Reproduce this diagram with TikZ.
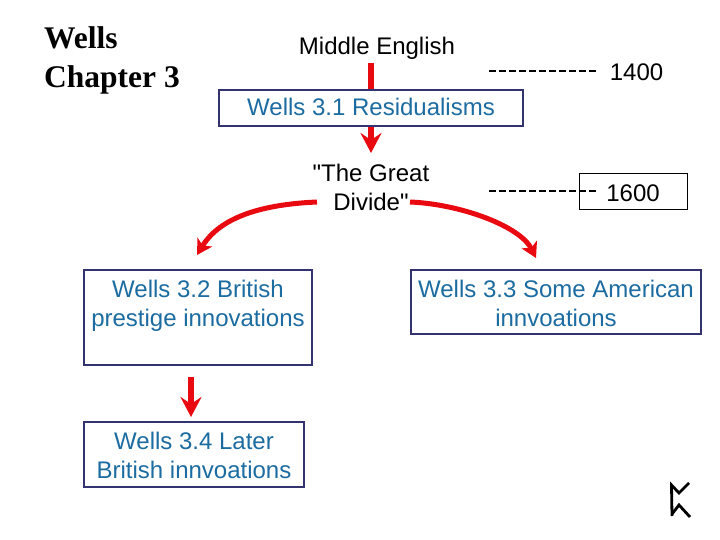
\documentclass[tikz,border=0pt]{standalone}
\usepackage{fontspec}
\setmainfont{Liberation Sans}
\newfontfamily\straightfont{Liberation Sans}
\newfontfamily\titlefont{Liberation Serif}
\usetikzlibrary{arrows.meta}
\definecolor{boxline}{HTML}{333370}
\definecolor{boxtext}{HTML}{1C6CA2}
\definecolor{arrowred}{HTML}{E80A10}
\newcommand{\boxbody}[4]{\begin{minipage}[t][#2pt][t]{#1pt}\centering\fontsize{24}{29}\selectfont\rule{0pt}{#3pt}#4\end{minipage}}
\tikzset{
  wellsbox/.style={draw=boxline,line width=2pt,text=boxtext,inner sep=0pt,fill=white},
  plain/.style={inner sep=0pt,align=center,font=\straightfont\fontsize{24}{29}\selectfont,text=black},
  redline/.style={draw=arrowred,line width=5.5pt},
  redstraight/.style={redline,-{Stealth[length=20pt,width=21pt,inset=7pt]}},
  redcurve/.style={draw=arrowred,line width=5pt,-{Stealth[length=15pt,width=17pt,inset=4pt]}},
  dashline/.style={draw=black,line width=1.2pt,dash pattern=on 7pt off 3pt},
}
\begin{document}
\begin{tikzpicture}[x=1pt,y=-1pt]
\useasboundingbox[fill=white] (0,0) rectangle (720,540);
% anchors of the free connector ends
\coordinate (d14a) at (489,71);
\coordinate (d14b) at (597,71);
\coordinate (d16a) at (489,191);
\coordinate (d16b) at (597,191);
\coordinate (divL) at (317,202);
\coordinate (divR) at (410,202);
\coordinate (tipL) at (197,255);
\coordinate (tipR) at (536,258);
% title
\node[anchor=north west,inner sep=0pt,align=left,font=\titlefont\bfseries\fontsize{31.5}{39}\selectfont] (title) at (44,26) {Wells\\Chapter 3};
% texts
\node[plain,anchor=base] (me) at (377,55) {Middle English};
\node[plain,anchor=base] (y14) at (636.5,81) {1400};
\node[plain] (div) at (371,187) {"The Great\\Divide"};
% boxes
\node[wellsbox] (r) at (371,108) {\boxbody{304}{36}{26}{Wells 3.1 Residualisms}};
\node[wellsbox] (b32) at (198,317.5) {\boxbody{228}{95}{27}{Wells 3.2 British\\prestige innovations}};
\node[wellsbox] (b33) at (556,302) {\boxbody{290}{64}{27}{Wells 3.3 Some American\\innvoations}};
\node[wellsbox] (b34) at (194,454.5) {\boxbody{220}{65}{27}{Wells 3.4 Later\\British innvoations}};
% dashes and 1600
\draw[dashline] (d14a) -- (d14b);
\draw[dashline] (d16a) -- (d16b);
\node[draw=black,line width=1pt,inner sep=0pt] (y16) at (633,192) {\boxbody{108}{36}{28}{1600}};
% arrows
\draw[redline,shorten <=3pt] (me.south -| r.north) -- (r.north);
\draw[redstraight] (r.south) -- (371,153);
\draw[redstraight] (191,377) -- (191,417);
\draw[redcurve] (divL) .. controls (270,204) and (222,214) .. (tipL);
\draw[redcurve] (divR) .. controls (460,204) and (520,226) .. (tipR);
% rune
\draw[black,line width=2.8pt,line join=miter] (689,483) -- (679,493) -- (671.5,485) -- (672,516);
\draw[black,line width=2.8pt] (672,514) -- (679,505) -- (690,517);
\end{tikzpicture}
\end{document}
